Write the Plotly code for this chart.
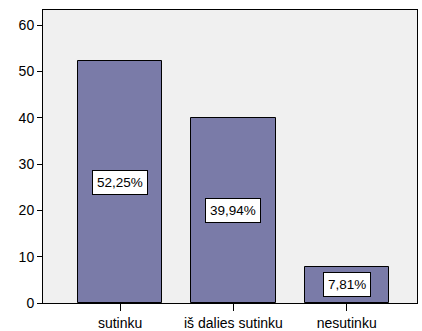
import plotly.graph_objects as go

categories = ["sutinku", "iš dalies sutinku", "nesutinku"]
values = [52.25, 39.94, 7.81]
labels = ["52,25%", "39,94%", "7,81%"]
y_ticks = [0, 10, 20, 30, 40, 50, 60]

x_pos = list(range(len(categories)))

fig = go.Figure()
fig.add_trace(go.Bar(
    x=x_pos, y=values, width=0.745,
    marker=dict(color="rgb(122,123,168)", line=dict(color="black", width=1)),
    hoverinfo="skip",
))

for xi, v, t in zip(x_pos, values, labels):
    fig.add_annotation(
        x=xi, y=v / 2, text=t, showarrow=False,
        font=dict(family="Liberation Sans, Arial, sans-serif", size=13.5, color="black"),
        bgcolor="white", bordercolor="black", borderwidth=1, borderpad=4,
    )

fig.update_layout(
    width=422, height=331,
    margin=dict(l=43, r=5, t=10, b=28, autoexpand=False),
    paper_bgcolor="white",
    plot_bgcolor="rgb(240,240,240)",
    font=dict(family="Liberation Sans, Arial, sans-serif", size=14, color="black"),
    showlegend=False,
    bargap=0,
)
fig.update_xaxes(
    range=[-0.68, 2.62], tickvals=x_pos, ticktext=categories,
    showline=True, linecolor="black", linewidth=1, mirror=True,
    ticks="outside", ticklen=7, tickcolor="black", tickwidth=1,
    showgrid=False, zeroline=False, fixedrange=True, automargin=False,
)
fig.update_yaxes(
    range=[0, 63.3], tickvals=y_ticks,
    showline=True, linecolor="black", linewidth=1, mirror=True,
    ticks="outside", ticklen=5, tickcolor="black", tickwidth=1,
    showgrid=False, zeroline=False, fixedrange=True, automargin=False,
)

fig.write_html(
    "out.html",
    config={"displayModeBar": False},
    post_script="document.body.style.margin='0';document.body.style.overflow='hidden';",
)
